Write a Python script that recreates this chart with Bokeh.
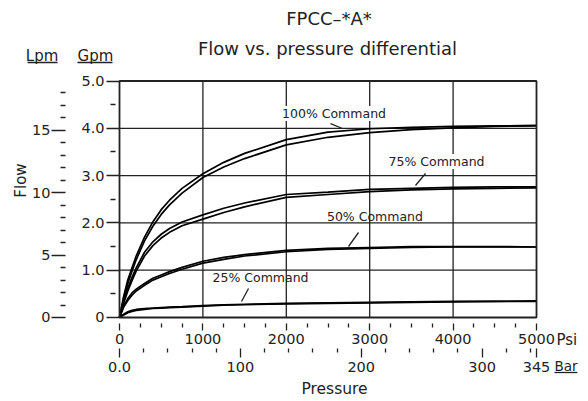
from bokeh.plotting import figure
from bokeh.models import Range1d, LinearAxis, FixedTicker, Label
from bokeh.embed import file_html
from bokeh.resources import INLINE

# ---------------- data ----------------
pressure_psi = [0, 50, 100, 150, 200, 300, 400, 500, 600, 750, 1000, 1250, 1500, 2000, 2500, 3000, 3500, 4000, 4500, 5000]

flow_100_up = [0, 0.45, 0.80, 1.05, 1.30, 1.70, 2.02, 2.28, 2.48, 2.73, 3.04, 3.28, 3.47, 3.76, 3.92, 3.99, 4.02, 4.04, 4.05, 4.06]
flow_100_dn = [0, 0.40, 0.72, 0.98, 1.22, 1.62, 1.93, 2.18, 2.38, 2.63, 2.96, 3.18, 3.36, 3.65, 3.81, 3.91, 3.97, 4.01, 4.04, 4.05]
flow_75_up = [0, 0.35, 0.62, 0.85, 1.05, 1.38, 1.60, 1.76, 1.88, 2.02, 2.17, 2.31, 2.42, 2.60, 2.65, 2.71, 2.73, 2.75, 2.76, 2.76]
flow_75_dn = [0, 0.30, 0.56, 0.78, 0.98, 1.30, 1.52, 1.68, 1.80, 1.94, 2.08, 2.22, 2.34, 2.54, 2.60, 2.66, 2.70, 2.72, 2.73, 2.74]
flow_50_up = [0, 0.25, 0.40, 0.52, 0.60, 0.72, 0.83, 0.90, 0.97, 1.06, 1.19, 1.27, 1.33, 1.42, 1.46, 1.48, 1.50, 1.50, 1.50, 1.49]
flow_50_dn = [0, 0.22, 0.36, 0.47, 0.56, 0.68, 0.79, 0.86, 0.93, 1.02, 1.15, 1.23, 1.30, 1.39, 1.44, 1.46, 1.48, 1.49, 1.49, 1.49]
flow_25_up = [0, 0.07, 0.12, 0.15, 0.17, 0.19, 0.20, 0.21, 0.22, 0.23, 0.25, 0.27, 0.28, 0.30, 0.31, 0.32, 0.33, 0.34, 0.34, 0.35]
flow_25_dn = [0, 0.05, 0.10, 0.13, 0.15, 0.17, 0.19, 0.20, 0.21, 0.22, 0.24, 0.26, 0.27, 0.29, 0.30, 0.31, 0.32, 0.33, 0.34, 0.34]

command_names = ["100% Command", "75% Command", "50% Command", "25% Command"]

psi_ticks = [0, 1000, 2000, 3000, 4000, 5000]
psi_labels = ["0", "1000", "2000", "3000", "4000", "5000"]
psi_minor = [250, 500, 750, 1250, 1500, 1750, 2250, 2500, 2750, 3250, 3500, 3750, 4250, 4500, 4750]

bar_ticks = [0, 100, 200, 300, 345]
bar_labels = ["0.0", "100", "200", "300", "345"]
bar_minor = [20, 40, 60, 80, 120, 140, 160, 180, 220, 240, 260, 280, 320, 340]

gpm_ticks = [0.0, 1.0, 2.0, 3.0, 4.0, 5.0]
gpm_labels = ["0", "1.0", "2.0", "3.0", "4.0", "5.0"]
gpm_minor = [0.5, 1.5, 2.5, 3.5, 4.5]

lpm_ticks = [0, 5, 10, 15]
lpm_labels = ["0", "5", "10", "15"]
lpm_minor = [1, 2, 3, 4, 6, 7, 8, 9, 11, 12, 13, 14, 16, 17, 18]

PSI_MIN, PSI_MAX = 0, 5000
GPM_MIN, GPM_MAX = 0.0, 5.0
LPM_PER_GPM = 3.78541
PSI_PER_BAR = 5000 / 345

# ---------------- figure: frame spans whole canvas ----------------
FONT = "DejaVu Sans"
INK = "#222222"
TICK_FS = "14.5px"

# view window (data units) so that the chart box sits where the reference has it
X_VIEW = (-1426.9, 5623.5)
Y_VIEW = (-1.776, 6.702)

p = figure(width=588, height=401,
           x_range=Range1d(*X_VIEW), y_range=Range1d(*Y_VIEW),
           output_backend="svg", toolbar_location=None, min_border=0)
p.title.visible = False
p.background_fill_color = "white"
p.border_fill_color = "white"
p.outline_line_color = None
p.grid.visible = False

lpm_view = (Y_VIEW[0] * LPM_PER_GPM, Y_VIEW[1] * LPM_PER_GPM)
bar_view = (X_VIEW[0] / PSI_PER_BAR, X_VIEW[1] / PSI_PER_BAR)
p.extra_y_ranges = {"lpm": Range1d(*lpm_view)}
p.extra_x_ranges = {"bar": Range1d(*bar_view)}


def style_axis(ax):
    ax.axis_line_color = None
    ax.major_tick_line_color = INK
    ax.minor_tick_line_color = INK
    ax.major_tick_line_width = 1.3
    ax.minor_tick_line_width = 1.3
    ax.major_label_text_font = FONT
    ax.major_label_text_font_size = TICK_FS
    ax.major_label_text_color = INK


# Gpm axis, on the left edge of the chart box
gax = p.yaxis[0]
style_axis(gax)
gax.fixed_location = PSI_MIN
gax.ticker = FixedTicker(ticks=gpm_ticks, minor_ticks=gpm_minor)
gax.major_label_overrides = {t: l for t, l in zip(gpm_ticks, gpm_labels)}
gax.major_tick_in = 0
gax.major_tick_out = 13
gax.minor_tick_in = -4
gax.minor_tick_out = 9
gax.major_label_standoff = 2

# Lpm axis, further left
lax = LinearAxis(y_range_name="lpm")
style_axis(lax)
lax.fixed_location = -647
lax.ticker = FixedTicker(ticks=lpm_ticks, minor_ticks=lpm_minor)
lax.major_label_overrides = {t: l for t, l in zip(lpm_ticks, lpm_labels)}
lax.major_tick_in = 0
lax.major_tick_out = 14
lax.minor_tick_in = 0
lax.minor_tick_out = 5
lax.major_label_standoff = 1
p.add_layout(lax, "left")

# Psi axis, just under the chart box
xax = p.xaxis[0]
style_axis(xax)
xax.fixed_location = GPM_MIN
xax.ticker = FixedTicker(ticks=psi_ticks, minor_ticks=psi_minor)
xax.major_label_overrides = {t: l for t, l in zip(psi_ticks, psi_labels)}
xax.major_tick_in = -6
xax.major_tick_out = 13
xax.minor_tick_in = -6
xax.minor_tick_out = 10
xax.major_label_standoff = 4

# Bar axis, below the Psi axis
bax = LinearAxis(x_range_name="bar")
style_axis(bax)
bax.fixed_location = -0.655
bax.ticker = FixedTicker(ticks=bar_ticks, minor_ticks=bar_minor)
bax.major_label_overrides = {t: l for t, l in zip(bar_ticks, bar_labels)}
bax.major_tick_in = 0
bax.major_tick_out = 9
bax.minor_tick_in = 0
bax.minor_tick_out = 4
bax.major_label_standoff = 5
p.add_layout(bax, "below")

# grid lines and chart box
grid_x = psi_ticks[1:-1]
grid_y = gpm_ticks[1:-1]
p.segment(x0=grid_x, y0=[GPM_MIN] * len(grid_x), x1=grid_x, y1=[GPM_MAX] * len(grid_x),
          line_color=INK, line_width=1.3)
p.segment(x0=[PSI_MIN] * len(grid_y), y0=grid_y, x1=[PSI_MAX] * len(grid_y), y1=grid_y,
          line_color=INK, line_width=1.3)

# curves
for series in (flow_100_up, flow_100_dn, flow_75_up, flow_75_dn,
               flow_50_up, flow_50_dn, flow_25_up, flow_25_dn):
    p.line(pressure_psi, series, line_color="black", line_width=1.7)

p.quad(left=[PSI_MIN], right=[PSI_MAX], bottom=[GPM_MIN], top=[GPM_MAX],
       fill_color=None, line_color=INK, line_width=1.8)

# command labels with leader lines (positions in data units)
label_x = [2572, 3801, 3063, 1691]
label_y = [4.313, 3.298, 2.135, 0.846]
label_bg = ["white", "white", None, None]
lead_x0 = [2530, 3669, 2866, 1547]
lead_y0 = [4.101, 3.044, 1.797, 0.613]
lead_x1 = [2674, 3549, 2746, 1463]
lead_y1 = [3.996, 2.791, 1.501, 0.338]
p.segment(x0=lead_x0, y0=lead_y0, x1=lead_x1, y1=lead_y1, line_color=INK, line_width=1.3)
for name, lx, ly, bg in zip(command_names, label_x, label_y, label_bg):
    p.add_layout(Label(x=lx, y=ly, text=name, text_align="center", text_baseline="middle",
                       text_font=FONT, text_font_size="12.5px", text_color=INK,
                       background_fill_color=bg))


def note(x, y, text, size, align="center", angle=0):
    p.add_layout(Label(x=x, y=y, text=text, text_align=align, text_baseline="middle",
                       text_font=FONT, text_font_size=size, text_color=INK,
                       angle=angle, angle_units="deg"))


# titles and unit captions
note(2512, 6.321, "FPCC\u2013*A*", "18px")
note(2494, 5.687, "Flow vs. pressure differential", "18px")
note(-929, 5.539, "Lpm", "15px")
note(-288, 5.539, "Gpm", "15px")
note(-1187, 2.896, "Flow", "15px", angle=90)
note(5240, -0.486, "Psi", "15px", align="left")
note(5216, -1.036, "Bar", "13.5px", align="left")
note(2578, -1.522, "Pressure", "15.5px")

# underlines of unit captions
ul_x0 = [-1103, -504, 5216]
ul_x1 = [-743, -84, 5490]
ul_y = [5.391, 5.391, -1.163]
p.segment(x0=ul_x0, y0=ul_y, x1=ul_x1, y1=ul_y, line_color=INK, line_width=1.3)

open("out.html", "w").write(file_html(p, INLINE))
